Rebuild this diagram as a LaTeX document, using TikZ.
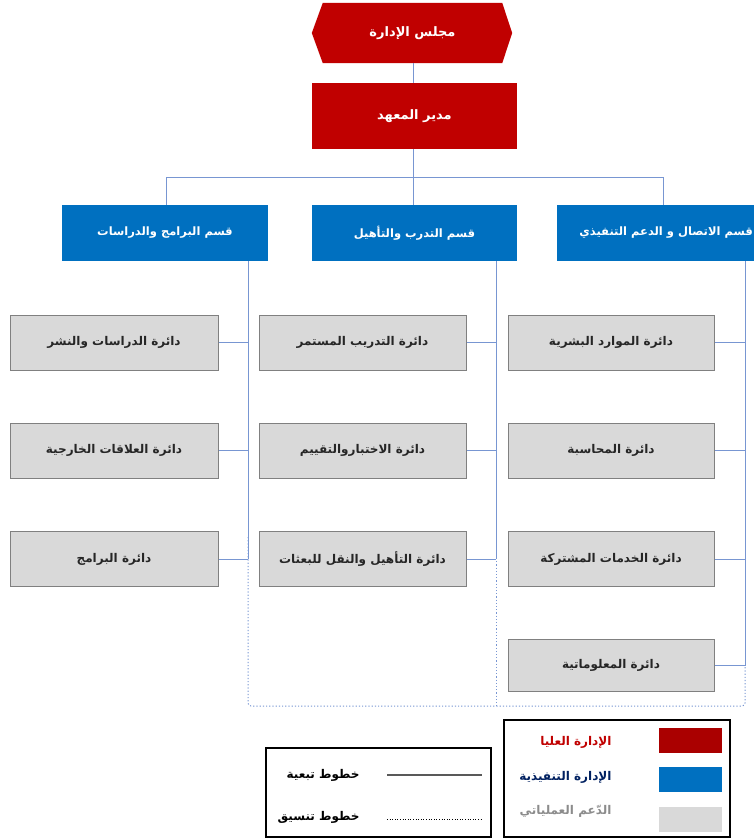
\documentclass[tikz,border=0pt]{standalone}
\usepackage{fontspec}
\TeXXeTstate=1
\newfontfamily\arabicfont[Script=Arabic]{DejaVu Sans}
\usetikzlibrary{backgrounds,calc}
\newcommand\artext[1]{\beginR #1\endR}

\definecolor{boardred}{RGB}{192,0,0}
\definecolor{deptblue}{RGB}{0,112,192}
\definecolor{unitgray}{RGB}{217,217,217}
\definecolor{unitedge}{RGB}{128,128,128}
\definecolor{linkblue}{RGB}{120,150,210}
\definecolor{swatchred}{RGB}{170,0,0}
\definecolor{navytext}{RGB}{0,32,96}
\definecolor{greytext}{RGB}{140,140,140}

\tikzset{
  boxtext/.style={font=\arabicfont\bfseries\fontsize{12}{14}\selectfont},
  toptext/.style={font=\arabicfont\bfseries\fontsize{13}{15}\selectfont},
  depttext/.style={font=\arabicfont\bfseries\fontsize{11.5}{14}\selectfont},
  topbox/.style={toptext, fill=boardred, text=white, inner sep=0pt,
    minimum width=205pt, minimum height=66pt},
  hexbox/.style={toptext, text=white, inner sep=0pt,
    minimum width=179pt, minimum height=60pt},
  deptbox/.style={depttext, fill=deptblue, text=white, inner sep=0pt,
    minimum width=206pt, minimum height=56pt},
  unitbox/.style={boxtext, fill=unitgray, draw=unitedge, line width=1pt,
    text=black!85, inner sep=0pt, minimum width=207pt, minimum height=55pt},
  reports/.style={draw=linkblue, line width=0.9pt},
  coordinates/.style={draw=linkblue, line width=1pt, dash pattern=on 1.2pt off 2pt,
    rounded corners=3pt},
  legendframe/.style={draw=black, line width=1.3pt, inner sep=0pt},
  legendtext/.style={font=\arabicfont\bfseries\fontsize{12}{14}\selectfont, anchor=east},
  swatch/.style={inner sep=0pt, minimum width=63pt, minimum height=25pt}
}

\begin{document}
\begin{tikzpicture}[x=1pt,y=-1pt]
\useasboundingbox (0,0) rectangle (754,839);

% board of directors (hexagon) and director
\node[hexbox] (board) at (412.5,33) {\artext{مجلس الإدارة}};
\begin{pgfonlayer}{background}
  \fill[boardred] ($(board.west)+(-11,0)$) -- (board.north west) -- (board.north east)
    -- ($(board.east)+(10,0)$) -- (board.south east) -- (board.south west) -- cycle;
\end{pgfonlayer}
\node[topbox] (director) at (414.5,116) {\artext{مدير المعهد}};

% departments
\node[deptbox] (secProg) at (165,233) {\artext{قسم البرامج والدراسات}};
\node[deptbox, minimum width=205pt] (secTrain) at (414.5,233) {\artext{قسم التدرب والتأهيل}};
\node[deptbox, minimum width=197pt] (secComm) at (655.5,233) {};
\node[depttext, text=white, anchor=east, inner sep=0pt] (secCommText) at (753,233)
  {\artext{قسم الاتصال و الدعم التنفيذي}};

% units: programmes and studies
\node[unitbox, minimum width=208pt] (u11) at (114,342.5) {\artext{دائرة الدراسات والنشر}};
\node[unitbox, minimum width=208pt] (u12) at (114,450.5) {\artext{دائرة العلاقات الخارجية}};
\node[unitbox, minimum width=208pt] (u13) at (114,559) {\artext{دائرة البرامج}};
% units: training
\node[unitbox] (u21) at (362.5,342.5) {\artext{دائرة التدريب المستمر}};
\node[unitbox] (u22) at (362.5,450.5) {\artext{دائرة الاختباروالتقييم}};
\node[unitbox] (u23) at (362.5,559) {\artext{دائرة التأهيل والنقل للبعثات}};
% units: communication and support
\node[unitbox, minimum width=206pt] (u31) at (611,342.5) {\artext{دائرة الموارد البشرية}};
\node[unitbox, minimum width=206pt] (u32) at (611,450.5) {\artext{دائرة المحاسبة}};
\node[unitbox, minimum width=206pt] (u33) at (611,559) {\artext{دائرة الخدمات المشتركة}};
\node[unitbox, minimum width=206pt, minimum height=52pt] (u34) at (611,665.5) {\artext{دائرة المعلوماتية}};

% reporting lines
\coordinate (busL) at (166,177);
\coordinate (busR) at (663,177);
\draw[reports] (board.south -| 413,0) -- (director.north -| 413,0);
\draw[reports] (director.south -| 413,0) -- (413,177);
\draw[reports] (busL) -- (busR);
\draw[reports] (busL) -- (busL |- secProg.north);
\draw[reports] (413,177) -- (secTrain.north -| 413,0);
\draw[reports] (busR) -- (busR |- secComm.north);

\coordinate (spineL) at (248,261);
\coordinate (spineM) at (496,261);
\coordinate (spineR) at (745,261);
\draw[reports] (spineL) -- (spineL |- u13.east);
\draw[reports] (spineM) -- (spineM |- u23.east);
\draw[reports] (spineR) -- (spineR |- u34.east);
\foreach \u in {u11,u12,u13} \draw[reports] (\u.east) -- (\u.east -| spineL);
\foreach \u in {u21,u22,u23} \draw[reports] (\u.east) -- (\u.east -| spineM);
\foreach \u in {u31,u32,u33,u34} \draw[reports] (\u.east) -- (\u.east -| spineR);

% coordination lines
\coordinate (dotL) at (248,537);
\coordinate (dotM) at (496,542);
\coordinate (dotBase) at (248,706);
\draw[coordinates] (dotL) -- (dotBase) -- (dotBase -| spineR) -- (u34.east -| spineR);
\draw[coordinates] (dotM) -- (dotBase -| dotM);

% legend: colours
\node[legendframe, minimum width=226pt, minimum height=117pt] (legColours) at (617,778.5) {};
\node[swatch, fill=swatchred] (swRed) at (690,740.5) {};
\node[swatch, fill=deptblue] (swBlue) at (690.5,779.5) {};
\node[swatch, fill=unitgray] (swGray) at (690.5,819.5) {};
\node[legendtext, text=boardred] (lgTop) at (615,742) {\artext{الإدارة العليا}};
\node[legendtext, text=navytext] (lgExec) at (615,777) {\artext{الإدارة التنفيذية}};
\node[legendtext, text=greytext] (lgOps) at (615,811) {\artext{الدّعم العملياتي}};

% legend: line types
\node[legendframe, minimum width=225pt, minimum height=89pt] (legLines) at (378.5,792.5) {};
\coordinate (solidA) at (387,775);
\coordinate (solidB) at (482,775);
\coordinate (dotA) at (387,819);
\coordinate (dotB) at (482,819);
\draw[gray!70!black, line width=1.2pt] (solidA) -- (solidB);
\draw[black, line width=0.6pt, dotted] (dotA) -- (dotB);
\node[legendtext] (lgSolid) at (363,775) {\artext{خطوط تبعية}};
\node[legendtext] (lgDotted) at (363,817) {\artext{خطوط تنسيق}};
\end{tikzpicture}
\end{document}
